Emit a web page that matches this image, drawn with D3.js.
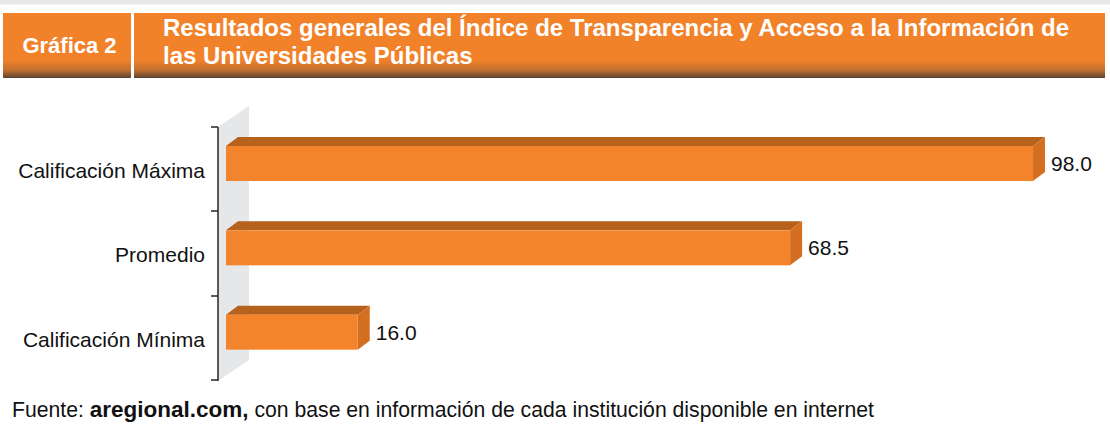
<!DOCTYPE html>
<html>
<head>
<meta charset="utf-8">
<script src="https://cdn.jsdelivr.net/npm/d3@7"></script>
<style>
  body { margin: 0; background: #ffffff; }
  svg { display: block; font-family: 'Liberation Sans', Arial, sans-serif; }
</style>
</head>
<body>
<div class="graph"></div>
<script>
//data//
let categories = ['Calificación Máxima', 'Promedio', 'Calificación Mínima'];
let values = [98.0, 68.5, 16.0];
let valueLabels = ['98.0', '68.5', '16.0'];

let headerTag = 'Gráfica 2';
let titleLines = ['Resultados generales del Índice de Transparencia y Acceso a la Información de',
                  'las Universidades Públicas'];

//various constants//
let w = 1110;
let h = 446;
let depthX = 12;
let depthY = 9;
let barHeight = 35;

let svg = d3.select('.graph')
    .append('svg')
    .attr('width', w)
    .attr('height', h);

//header//
let defs = svg.append('defs');
let grad = defs.append('linearGradient')
    .attr('id', 'hdr')
    .attr('x1', 0).attr('y1', 0)
    .attr('x2', 0).attr('y2', 1);
grad.append('stop').attr('offset', 0).attr('stop-color', '#f2822a');
grad.append('stop').attr('offset', 0.72).attr('stop-color', '#f2822a');
grad.append('stop').attr('offset', 0.88).attr('stop-color', '#c0702e');
grad.append('stop').attr('offset', 1).attr('stop-color', '#5a4533');

svg.append('rect')
    .attr('x', 0).attr('y', 0)
    .attr('width', w).attr('height', 4.5)
    .style('fill', '#e6e7e8');

svg.append('rect')
    .attr('x', 3).attr('y', 13)
    .attr('width', 128).attr('height', 65)
    .style('fill', 'url(#hdr)');

svg.append('rect')
    .attr('x', 134).attr('y', 13)
    .attr('width', 971).attr('height', 65)
    .style('fill', 'url(#hdr)');

svg.append('text')
    .attr('x', 69.5).attr('y', 53)
    .attr('text-anchor', 'middle')
    .style('font-size', '22px')
    .style('font-weight', 'bold')
    .style('fill', '#ffffff')
    .text(headerTag);

svg.append('text')
    .selectAll('tspan')
    .data(titleLines)
    .enter()
    .append('tspan')
    .attr('x', 163)
    .attr('y', (d, i) => 36 + i * 28)
    .style('font-size', '24px')
    .style('font-weight', 'bold')
    .style('fill', '#ffffff')
    .text(d => d);

//scales//
let xScale = d3.scaleLinear()
    .domain([0, 100])
    .range([226, 1049.5]);

let yScale = d3.scaleBand()
    .domain(categories)
    .range([127, 380]);

//back wall//
let wallX = 218;
let wallTop = yScale.range()[0];
let wallBottom = yScale.range()[1] + 1;
svg.append('path')
    .attr('d', `M${wallX},${wallTop} L${wallX + 31},${wallTop - 21} L${wallX + 31},${wallBottom - 21} L${wallX},${wallBottom} Z`)
    .style('fill', '#e6e7e8');

//bars//
let bars = svg.selectAll('.bar')
    .data(values)
    .enter()
    .append('g')
    .attr('class', 'bar');

let front = (d, i) => yScale(categories[i]) + 19;

bars.append('path')
    .attr('d', (d, i) => {
        let x0 = xScale(0), x1 = xScale(d), y0 = front(d, i);
        return `M${x0},${y0} L${x0 + depthX},${y0 - depthY} L${x1 + depthX},${y0 - depthY} L${x1},${y0} Z`;
    })
    .style('fill', '#b6611c');

bars.append('path')
    .attr('d', (d, i) => {
        let x1 = xScale(d), y0 = front(d, i);
        return `M${x1},${y0} L${x1 + depthX},${y0 - depthY} L${x1 + depthX},${y0 + barHeight - depthY} L${x1},${y0 + barHeight} Z`;
    })
    .style('fill', '#d46f22');

bars.append('rect')
    .attr('x', xScale(0))
    .attr('y', (d, i) => front(d, i))
    .attr('width', d => xScale(d) - xScale(0))
    .attr('height', barHeight)
    .style('fill', '#f4842c');

bars.append('text')
    .attr('x', d => xScale(d) + 18)
    .attr('y', (d, i) => front(d, i) + barHeight / 2)
    .attr('dy', '0.36em')
    .style('font-size', '21px')
    .style('fill', '#111111')
    .text((d, i) => valueLabels[i]);

//y axis//
let yAxis = d3.axisLeft(yScale)
    .tickSize(0)
    .tickPadding(13);

let axisG = svg.append('g')
    .attr('id', 'y-axis')
    .attr('transform', `translate(${wallX}, 0)`)
    .call(yAxis);

axisG.select('.domain').remove();
axisG.selectAll('text')
    .style('font-size', '21px')
    .style('font-family', "'Liberation Sans', Arial, sans-serif")
    .style('fill', '#111111')
    .attr('dy', '0.42em');

let edges = [127, 211, 296, 380];
axisG.append('line')
    .attr('x1', 0).attr('x2', 0)
    .attr('y1', 127).attr('y2', 381)
    .style('stroke', '#333333')
    .style('stroke-width', 1.6);

axisG.selectAll('.edge')
    .data(edges)
    .enter()
    .append('line')
    .attr('class', 'edge')
    .attr('x1', -7).attr('x2', 0)
    .attr('y1', d => d).attr('y2', d => d)
    .style('stroke', '#333333')
    .style('stroke-width', 1.6);

//footer//
let foot = svg.append('text')
    .attr('x', 12)
    .attr('y', 417)
    .style('font-size', '21.2px')
    .style('fill', '#111111');
foot.append('tspan').text('Fuente: ');
foot.append('tspan').style('font-weight', 'bold').style('font-size', '22.5px').text('aregional.com,');
foot.append('tspan').text(' con base en información de cada institución disponible en internet');
</script>
</body>
</html>
